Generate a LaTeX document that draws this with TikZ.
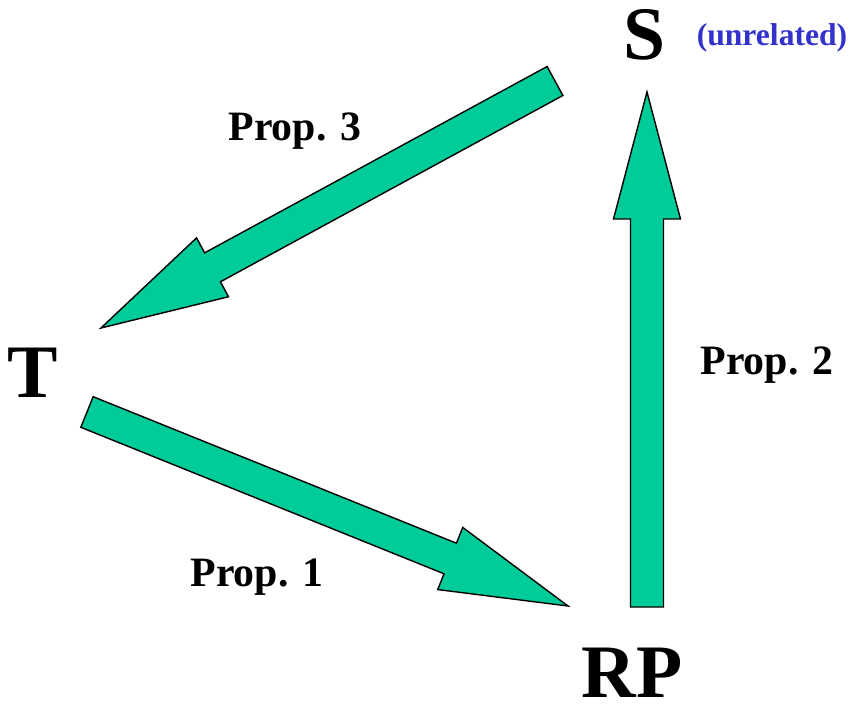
\documentclass[tikz,border=0pt]{standalone}
\usepackage{fontspec}
\setmainfont{Liberation Serif}
\usepackage{tikz}
\usetikzlibrary{calc}
\definecolor{arrowgreen}{RGB}{0,204,153}
\definecolor{noteblue}{RGB}{51,51,204}
\newcommand{\bigletters}{\fontsize{43}{43}\selectfont\bfseries}
\newcommand{\proplabel}{\fontsize{23.8}{24}\selectfont\bfseries}
\newcommand{\shafthalf}{0.33cm}
\newcommand{\headhalf}{0.67cm}
\newcommand{\headlen}{2.54cm}
% block arrow from #1 to #2
\newcommand{\fatarrow}[2]{%
  \coordinate (#1-base) at ($(#2)!\headlen!(#1)$);
  \draw [fatarrow]
    ($(#1)!\shafthalf!90:(#2)$) --
    ($(#1-base)!\shafthalf!-90:(#1)$) --
    ($(#1-base)!\headhalf!-90:(#1)$) --
    (#2) --
    ($(#1-base)!\headhalf!90:(#1)$) --
    ($(#1-base)!\shafthalf!90:(#1)$) --
    ($(#1)!\shafthalf!-90:(#2)$) -- cycle;}

\begin{document}
\begin{tikzpicture}[x=0.02cm, y=-0.02cm, inner sep=1pt,
    fatarrow/.style={fill=arrowgreen, draw=black, line width=0.8pt, line join=miter}]
  \useasboundingbox (0,0) rectangle (853,706);
  \node (S) at (645, 35) {\bigletters S};
  \node (unrel) at (772, 38) {\fontsize{18}{18}\selectfont\bfseries\color{noteblue}(unrelated)};
  \node (T) at (33, 373) {\bigletters T};
  \node (RP) at (632, 673) {\bigletters RP};
  \node (p3) at (295, 131) {\proplabel Prop. 3};
  \node (p2) at (767, 365) {\proplabel Prop. 2};
  \node (p1) at (257, 577) {\proplabel Prop. 1};
  \coordinate (SOut) at (555, 81);
  \coordinate (TIn) at (101, 328);
  \coordinate (TOut) at (87, 412);
  \coordinate (RPIn) at (568, 606);
  \coordinate (RPOut) at (647, 607);
  \coordinate (SIn) at (647, 92);
  \fatarrow{SOut}{TIn}
  \fatarrow{TOut}{RPIn}
  \fatarrow{RPOut}{SIn}
\end{tikzpicture}
\end{document}
